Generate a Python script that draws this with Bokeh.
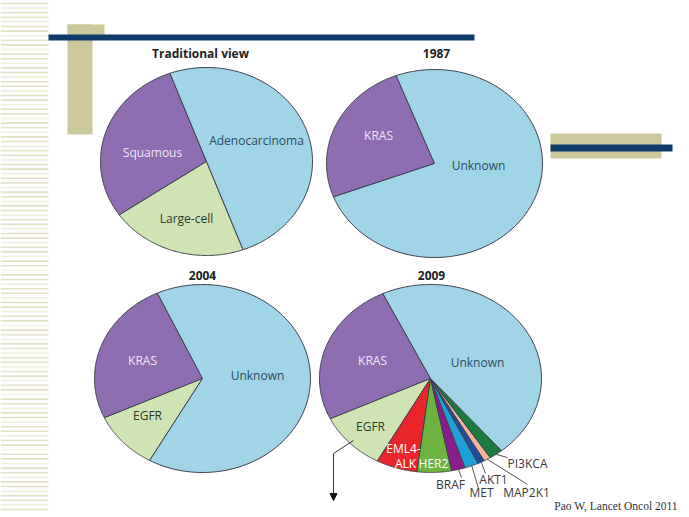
import numpy as np
from bokeh.plotting import figure
from bokeh.models import Range1d, Arrow, NormalHead
from bokeh.core.properties import value
from bokeh.embed import file_html
from bokeh.resources import INLINE

# ---------------- data ----------------
titles = ["Traditional view", "1987", "2004", "2009"]

trad_labels = ["Squamous", "Large-cell", "Adenocarcinoma"]
trad_values = [29, 21, 50]

y1987_labels = ["KRAS", "Unknown"]
y1987_values = [25, 75]

y2004_labels = ["KRAS", "EGFR", "Unknown"]
y2004_values = [25, 10, 65]

y2009_labels = ["KRAS", "EGFR", "EML4-ALK", "HER2", "BRAF", "MET", "AKT1", "MAP2K1", "PI3KCA", "Unknown"]
y2009_values = [25, 10, 6, 5, 2, 2, 1, 1, 2, 46]

source_note = "Pao W, Lancet  Oncol  2011"

# ---------------- styles ----------------
COLORS = {
    "Squamous": "#8f6db1", "KRAS": "#8f6db1",
    "Large-cell": "#cfe3b3", "EGFR": "#cfe3b3",
    "Adenocarcinoma": "#a0d5e8", "Unknown": "#a0d5e8",
    "EML4-ALK": "#e8262b", "HER2": "#6cb33f", "BRAF": "#8b1c8c",
    "MET": "#1ea0d6", "AKT1": "#1f4e9c", "MAP2K1": "#f4b49a", "PI3KCA": "#1e7b3f",
}
TXT = {"Squamous": "#eee6f4", "KRAS": "#eee6f4", "Adenocarcinoma": "#2c4a5c",
       "Unknown": "#2c4a5c", "Large-cell": "#2b3a2b", "EGFR": "#2b3a2b"}
FONT = value("Open Sans")
BEIGE = "#cbc99b"
NAVY = "#0f3a6c"

W, H = 685, 513
p = figure(width=W, height=H, x_range=Range1d(0, W), y_range=Range1d(H, 0),
           x_axis_type=None, y_axis_type=None, toolbar_location=None,
           output_backend="svg", min_border=0)
p.outline_line_color = None
p.grid.visible = False
p.background_fill_color = "white"

# ---------------- decorations ----------------
stripe_y = np.arange(3.0, 512.0, 4.6)
stripe_c = ["#e3e1c8" if i % 3 != 1 else "#f1f0e2" for i in range(len(stripe_y))]
p.segment(x0=0, x1=48, y0=stripe_y, y1=stripe_y, line_color=stripe_c, line_width=1.6)

p.quad(left=[67, 67, 550], right=[104, 92, 661], top=[24, 24, 133], bottom=[35, 134, 158],
       fill_color=BEIGE, line_color=None)
p.quad(left=[48, 550], right=[474, 672], top=[34, 144], bottom=[40, 151],
       fill_color=NAVY, line_color=None)

# ---------------- pies ----------------
def pie(cx, cy, rx, ry, start_deg, labels, values):
    fr = np.asarray(values, float) / np.sum(values)
    edges = start_deg + np.concatenate([[0.0], np.cumsum(fr)]) * 360.0
    xs, ys, cols = [], [], []
    for i, lab in enumerate(labels):
        th = np.radians(np.linspace(edges[i], edges[i + 1], 120))
        xs.append(np.concatenate([[cx], cx + rx * np.cos(th), [cx]]))
        ys.append(np.concatenate([[cy], cy - ry * np.sin(th), [cy]]))
        cols.append(COLORS[lab])
    p.patches(xs=xs, ys=ys, fill_color=cols, line_color="#3d4150", line_width=1)
    mids = np.radians((edges[:-1] + edges[1:]) / 2)
    return cx + rx * np.cos(mids), cy - ry * np.sin(mids)

pie(206, 161, 106, 94, 110.2, trad_labels, trad_values)
pie(434, 163, 108, 94, 110.8, y1987_labels, y1987_values)
pie(202, 378, 108, 94, 114.7, y2004_labels, y2004_values)
ex, ey = pie(430, 378, 111, 94, 115.4, y2009_labels, y2009_values)

# titles
p.text(x=[200, 436, 202, 431], y=[53, 53, 275, 275], text=titles,
       text_font=FONT, text_font_style="bold", text_font_size="12px",
       text_color="#222222", text_align="center", text_baseline="middle")

# in-slice labels
inside = [("Squamous", 152, 152), ("Adenocarcinoma", 256, 140), ("Large-cell", 186, 218),
          ("KRAS", 378, 135), ("Unknown", 478, 165),
          ("KRAS", 142, 360), ("Unknown", 257, 375), ("EGFR", 147, 415),
          ("KRAS", 372, 360), ("Unknown", 477, 362), ("EGFR", 370, 426)]
p.text(x=[a[1] for a in inside], y=[a[2] for a in inside], text=[a[0] for a in inside],
       text_color=[TXT[a[0]] for a in inside], text_font=FONT, text_font_size="12px",
       text_align="center", text_baseline="middle")

# EML4-ALK / HER2 (white)
p.text(x=[403, 405, 433], y=[448, 463, 463], text=["EML4-", "ALK", "HER2"],
       text_color="white", text_font=FONT, text_font_size="12px",
       text_align="center", text_baseline="middle")

# outside labels with leader lines (BRAF, MET, AKT1, MAP2K1, PI3KCA)
out_idx = [4, 5, 6, 7, 8]
lead_end = [(461, 477), (478, 488), (485, 473), (527, 484), (507, 457)]
lab_pos = [(450, 484), (481, 492), (493, 479), (526, 492), (527, 463)]
p.segment(x0=[ex[i] for i in out_idx], y0=[ey[i] for i in out_idx],
          x1=[e[0] for e in lead_end], y1=[e[1] for e in lead_end],
          line_color="#555555", line_width=1)
p.text(x=[l[0] for l in lab_pos], y=[l[1] for l in lab_pos],
       text=[y2009_labels[i] for i in out_idx], text_color="#3a3a3a",
       text_font=FONT, text_font_size="12px", text_align="center", text_baseline="middle")

# EGFR arrow
p.segment(x0=[353], y0=[440], x1=[333], y1=[453], line_color="#333333", line_width=1)
p.add_layout(Arrow(end=NormalHead(size=7, fill_color="#111111", line_color="#111111"),
                   x_start=333, y_start=453, x_end=333, y_end=500,
                   line_color="#333333", line_width=1))

# source note
p.text(x=[683], y=[505], text=[source_note], text_font=value("Liberation Serif"),
       text_font_size="11.5px", text_color="#333333", text_align="right", text_baseline="middle")

open("out.html", "w").write(file_html(p, INLINE))
